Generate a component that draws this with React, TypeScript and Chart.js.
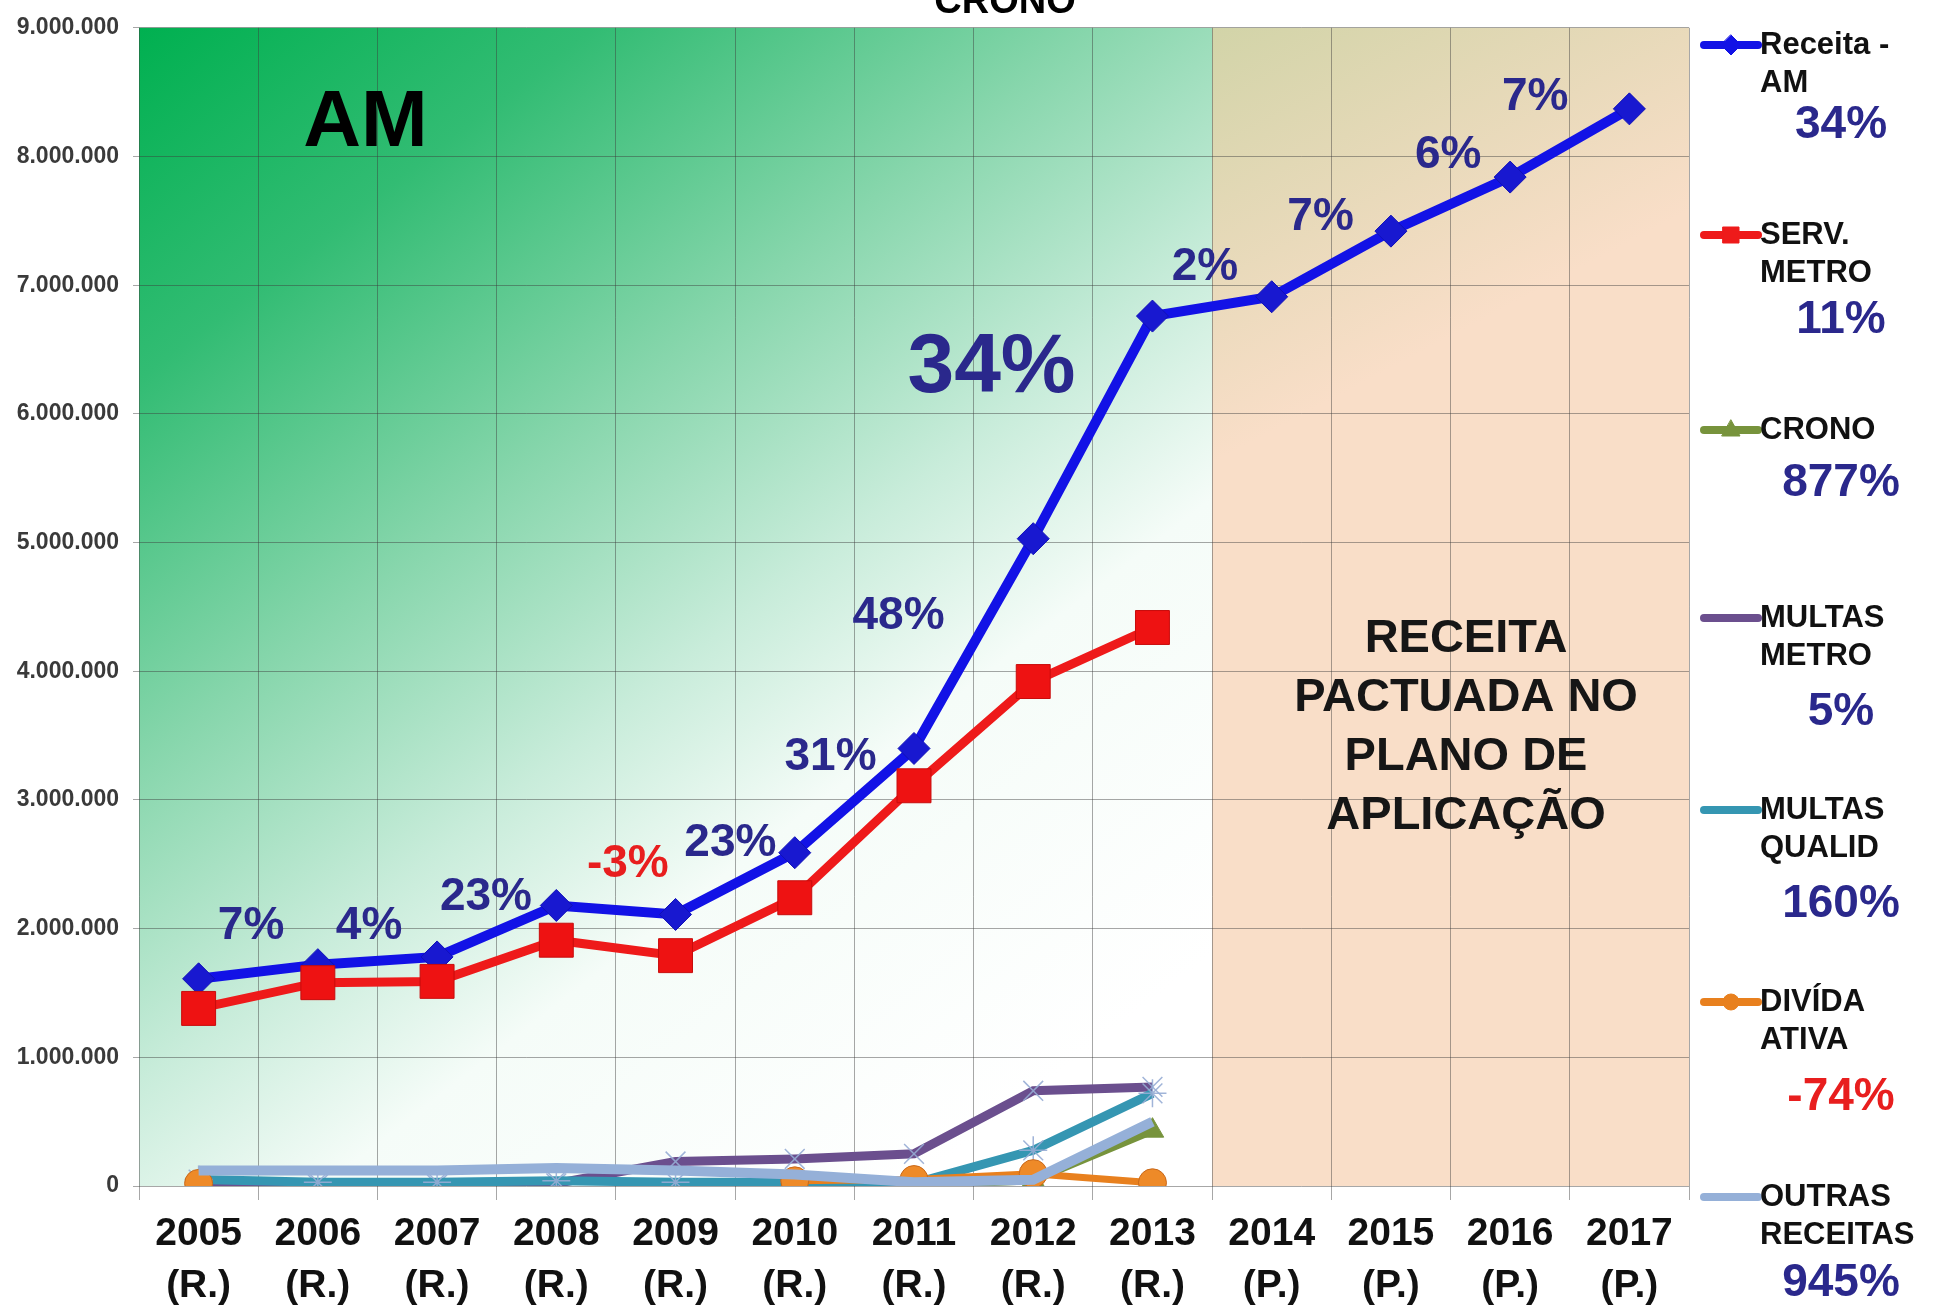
import React, { useEffect, useRef } from 'react';
import { Chart, registerables } from 'chart.js';

Chart.register(...registerables);

// ---------- data ----------
const YEARS = ['2005', '2006', '2007', '2008', '2009', '2010', '2011', '2012', '2013', '2014', '2015', '2016', '2017'];
const PERIOD = ['(R.)', '(R.)', '(R.)', '(R.)', '(R.)', '(R.)', '(R.)', '(R.)', '(R.)', '(P.)', '(P.)', '(P.)', '(P.)'];

const RECEITA_AM = [1610000, 1720000, 1780000, 2180000, 2110000, 2590000, 3400000, 5030000, 6760000, 6910000, 7420000, 7840000, 8370000];
const SERV_METRO = [1380000, 1580000, 1590000, 1910000, 1790000, 2240000, 3110000, 3920000, 4340000, null, null, null, null];
const CRONO = [null, null, null, null, null, 5000, 5000, 44000, 430000, null, null, null, null];
const MULTAS_METRO = [20000, 10000, 10000, 20000, 190000, 210000, 250000, 740000, 770000, null, null, null, null];
const MULTAS_QUALID = [50000, 30000, 30000, 40000, 30000, 30000, 20000, 277000, 720000, null, null, null, null];
const DIVIDA_ATIVA = [20000, null, null, null, null, 40000, 50000, 96000, 25000, null, null, null, null];
const OUTRAS_RECEITAS = [120000, 120000, 120000, 140000, 120000, 90000, 30000, 48000, 500000, null, null, null, null];

const Y_MAX = 9000000;
const Y_STEP = 1000000;

// growth labels on the Receita - AM line
const GROWTH_LABELS = ['7%', '4%', '23%', '-3%', '23%', '31%', '48%', '34%', '2%', '7%', '6%', '7%'];
// anchors: [category index, value]
const GROWTH_ANCHORS = [
  [0.44, 2020000], [1.43, 2020000], [2.41, 2240000], [3.6, 2500000], [4.46, 2660000], [5.3, 3330000],
  [5.87, 4430000], [6.65, 6350000], [8.44, 7140000], [9.41, 7530000], [10.48, 8010000], [11.21, 8460000],
];
const GROWTH_BIG = [false, false, false, false, false, false, false, true, false, false, false, false];
const GROWTH_NEG = [false, false, false, true, false, false, false, false, false, false, false, false];

const SERIES_NAMES = [
  ['Receita -', 'AM'],
  ['SERV.', 'METRO'],
  ['CRONO'],
  ['MULTAS', 'METRO'],
  ['MULTAS', 'QUALID'],
  ['DIVÍDA', 'ATIVA'],
  ['OUTRAS', 'RECEITAS'],
];
const SERIES_GROWTH = ['34%', '11%', '877%', '5%', '160%', '-74%', '945%'];

const PROJ_TEXT = ['RECEITA', 'PACTUADA NO', 'PLANO DE', 'APLICAÇÃO'];
const REGION_TEXT = 'AM';
const TOP_TEXT = 'CRONO';

// ---------- styles ----------
const NAVY = 'rgb(42,40,140)';
const RED_TXT = 'rgb(232,30,30)';
const FONT = '"Liberation Sans", Arial, sans-serif';

const COLORS = ['#1212e6', '#ee1a1a', '#77933c', '#6b4f8e', '#3596b2', '#e8801e', '#95b0d8'];
const MARKERS = ['rectRot', 'rect', 'triangle', 'crossRot', 'star', 'circle', false];
const LEGEND_Y = [45, 235, 430, 618, 810, 1002, 1197];
const LEGEND_PCT_Y = [125, 320, 483, 712, 904, 1097, 1283];

function fmt(v: number) {
  return String(v).replace(/\B(?=(\d{3})+(?!\d))/g, '.');
}

function drawShape(ctx: CanvasRenderingContext2D, style: any, x: number, y: number, r: number, fill: string, stroke: string) {
  ctx.beginPath();
  if (style === 'rectRot') {
    ctx.moveTo(x, y - r); ctx.lineTo(x + r, y); ctx.lineTo(x, y + r); ctx.lineTo(x - r, y); ctx.closePath();
  } else if (style === 'rect') {
    ctx.rect(x - r * 0.8, y - r * 0.8, r * 1.6, r * 1.6);
  } else if (style === 'triangle') {
    ctx.moveTo(x, y - r); ctx.lineTo(x + r * 0.9, y + r * 0.6); ctx.lineTo(x - r * 0.9, y + r * 0.6); ctx.closePath();
  } else if (style === 'circle') {
    ctx.arc(x, y, r * 0.8, 0, Math.PI * 2);
  } else {
    return;
  }
  ctx.fillStyle = fill;
  ctx.fill();
  ctx.strokeStyle = stroke;
  ctx.lineWidth = 1;
  ctx.stroke();
}

const decorPlugin = {
  id: 'decor',
  beforeDraw(chart: any) {
    const { ctx, chartArea: a, scales } = chart;
    const x = scales.x;
    const projStart = PERIOD.indexOf('(P.)');
    const split = (x.getPixelForValue(projStart - 1) + x.getPixelForValue(projStart)) / 2;
    ctx.save();
    ctx.fillStyle = '#ffffff';
    ctx.fillRect(0, 0, chart.width, chart.height);
    const g = ctx.createLinearGradient(a.left, a.top, a.left + 850, a.top + 1100);
    g.addColorStop(0, 'rgb(0,176,80)');
    g.addColorStop(0.2, 'rgb(50,188,115)');
    g.addColorStop(0.42, 'rgb(135,214,172)');
    g.addColorStop(0.6, 'rgb(200,236,218)');
    g.addColorStop(0.74, 'rgb(245,252,248)');
    g.addColorStop(1, 'rgb(255,255,255)');
    ctx.fillStyle = g;
    ctx.fillRect(a.left, a.top, split - a.left, a.bottom - a.top);
    const p = ctx.createLinearGradient(split, a.top, split + 180, a.top + 340);
    p.addColorStop(0, 'rgb(210,212,168)');
    p.addColorStop(1, 'rgb(249,222,200)');
    ctx.fillStyle = p;
    ctx.fillRect(split, a.top, a.right - split, a.bottom - a.top);
    ctx.restore();
  },
  beforeDatasetsDraw(chart: any) {
    const { ctx, scales } = chart;
    const x = scales.x;
    const y = scales.y;
    const px = (i: number) => x.getPixelForValue(0) + i * (x.getPixelForValue(1) - x.getPixelForValue(0));
    ctx.save();
    ctx.textAlign = 'center';
    ctx.textBaseline = 'middle';
    // region label
    ctx.fillStyle = '#000';
    ctx.font = `bold 80px ${FONT}`;
    ctx.fillText(REGION_TEXT, px(1.4), y.getPixelForValue(8250000));
    // projected region text
    ctx.fillStyle = '#161616';
    ctx.font = `bold 47px ${FONT}`;
    const projY = y.getPixelForValue(4250000);
    PROJ_TEXT.forEach((t, i) => ctx.fillText(t, px(10.63), projY + i * 59));
    // growth labels
    GROWTH_LABELS.forEach((t, i) => {
      const [ix, v] = GROWTH_ANCHORS[i];
      ctx.font = GROWTH_BIG[i] ? `bold 84px ${FONT}` : `bold 46px ${FONT}`;
      ctx.fillStyle = GROWTH_NEG[i] ? RED_TXT : NAVY;
      ctx.fillText(t, px(ix), y.getPixelForValue(v));
    });
    ctx.restore();
  },
  afterDraw(chart: any) {
    const { ctx } = chart;
    ctx.save();
    // partially visible header
    ctx.fillStyle = '#000';
    ctx.font = `bold 38px ${FONT}`;
    ctx.textAlign = 'center';
    ctx.textBaseline = 'alphabetic';
    ctx.fillText(TOP_TEXT, 1005, 13);
    // legend
    const sx0 = 1704;
    const sx1 = 1758;
    SERIES_NAMES.forEach((lines, i) => {
      const ly = LEGEND_Y[i];
      ctx.strokeStyle = COLORS[i];
      ctx.lineWidth = 8;
      ctx.lineCap = 'round';
      ctx.beginPath();
      ctx.moveTo(sx0, ly);
      ctx.lineTo(sx1, ly);
      ctx.stroke();
      drawShape(ctx, MARKERS[i], (sx0 + sx1) / 2, ly, 10, COLORS[i], COLORS[i]);
      ctx.fillStyle = '#111';
      ctx.font = `bold 31px ${FONT}`;
      ctx.textAlign = 'left';
      ctx.textBaseline = 'middle';
      lines.forEach((t, k) => ctx.fillText(t, 1760, ly + k * 38));
      ctx.font = `bold 46px ${FONT}`;
      ctx.textAlign = 'center';
      ctx.fillStyle = SERIES_GROWTH[i].startsWith('-') ? RED_TXT : NAVY;
      ctx.fillText(SERIES_GROWTH[i], 1841, LEGEND_PCT_Y[i]);
    });
    ctx.restore();
  },
};

function ds(label: string, data: (number | null)[], i: number, extra: any) {
  return {
    label,
    data,
    borderColor: COLORS[i],
    backgroundColor: COLORS[i],
    pointBackgroundColor: COLORS[i],
    pointBorderColor: COLORS[i],
    pointStyle: MARKERS[i],
    borderWidth: 9,
    tension: 0,
    spanGaps: false,
    order: 10 - i,
    ...extra,
  };
}

export default function App() {
  const ref = useRef<HTMLCanvasElement | null>(null);
  useEffect(() => {
    if (!ref.current) return;
    const chart = new Chart(ref.current, {
      type: 'line',
      data: {
        labels: YEARS.map((yr, i) => [yr, PERIOD[i]]),
        datasets: [
          ds(SERIES_NAMES[0].join(' '), RECEITA_AM, 0, { borderWidth: 10, pointRadius: 16, pointBackgroundColor: '#1818d0', pointBorderColor: '#1010b8', pointBorderWidth: 1 }),
          ds(SERIES_NAMES[1].join(' '), SERV_METRO, 1, { borderWidth: 9, pointRadius: 24, pointBackgroundColor: '#ee1212', pointBorderColor: '#c80c0c', pointBorderWidth: 1 }),
          ds(SERIES_NAMES[2].join(' '), CRONO, 2, { borderWidth: 8, pointRadius: 13, pointBorderWidth: 1 }),
          ds(SERIES_NAMES[3].join(' '), MULTAS_METRO, 3, { borderWidth: 9, pointRadius: 14, pointBorderColor: 'rgba(150,172,212,0.9)', pointBorderWidth: 1.5 }),
          ds(SERIES_NAMES[4].join(' '), MULTAS_QUALID, 4, { borderWidth: 9, pointRadius: 14, pointBorderColor: 'rgba(150,172,212,0.9)', pointBorderWidth: 1.5 }),
          ds(SERIES_NAMES[5].join(' '), DIVIDA_ATIVA, 5, { borderWidth: 7, pointRadius: 14, pointBackgroundColor: '#ee8a28', pointBorderColor: '#c8681a', pointBorderWidth: 1 }),
          ds(SERIES_NAMES[6].join(' '), OUTRAS_RECEITAS, 6, { borderWidth: 10, pointRadius: 0 }),
        ],
      },
      options: {
        responsive: false,
        devicePixelRatio: 1,
        animation: false,
        events: [],
        layout: { padding: { top: 22, right: 244, left: 0, bottom: 0 } },
        plugins: {
          legend: { display: false },
          title: { display: false },
          tooltip: { enabled: false },
        },
        scales: {
          x: {
            type: 'category',
            offset: true,
            grid: {
              offset: true,
              color: 'rgba(60,60,60,0.45)',
              lineWidth: 1,
              drawTicks: true,
              tickLength: 14,
            },
            border: { display: false },
            ticks: {
              color: '#111',
              font: { family: FONT, size: 39, weight: 'bold', lineHeight: 1.33 },
              maxRotation: 0,
              minRotation: 0,
              autoSkip: false,
              padding: 8,
            },
            afterFit: (s: any) => { s.height = 1314 - 1186; },
          },
          y: {
            min: 0,
            max: Y_MAX,
            grid: {
              color: 'rgba(60,60,60,0.45)',
              lineWidth: 1,
              drawTicks: true,
              tickLength: 6,
            },
            border: { display: false },
            ticks: {
              stepSize: Y_STEP,
              color: '#3a3a3a',
              font: { family: FONT, size: 23, weight: 'bold' },
              padding: 14,
              callback: (v: any) => fmt(Number(v)),
            },
            afterFit: (s: any) => { s.width = 139; },
          },
        },
      },
      plugins: [decorPlugin],
    } as any);
    return () => chart.destroy();
  }, []);

  return (
    <div style={{ position: 'fixed', left: 0, top: 0, width: 1933, height: 1314, background: '#fff', overflow: 'hidden' }}>
      <canvas ref={ref} width={1933} height={1314} style={{ display: 'block' }} />
    </div>
  );
}
